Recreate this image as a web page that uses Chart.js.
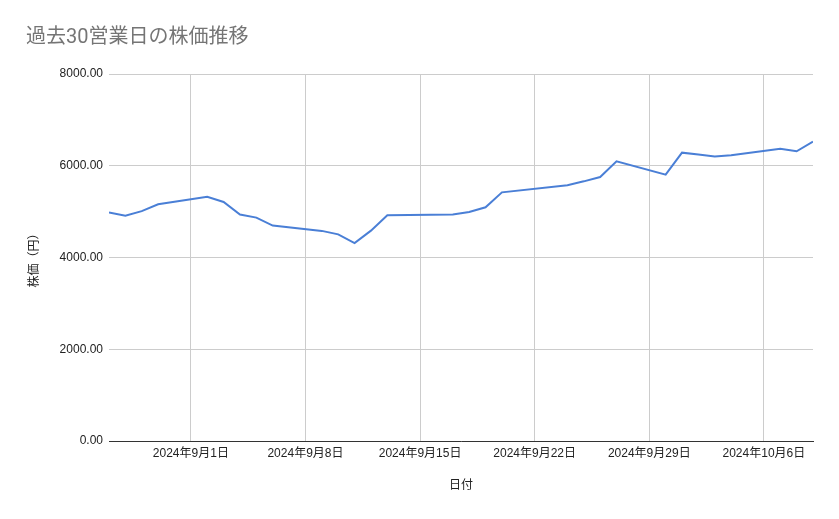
<!DOCTYPE html>
<html lang="ja">
<head>
<meta charset="utf-8">
<title>過去30営業日の株価推移</title>
<script src="https://cdn.jsdelivr.net/npm/chart.js@4.4.1/dist/chart.umd.min.js"></script>
<style>
  html, body { margin: 0; padding: 0; background: #fff; }
  #wrap { width: 839px; height: 519px; position: relative; }
</style>
</head>
<body>
<div id="wrap"><canvas id="stockChart"></canvas></div>
<script>
// 営業日と終値
const dates = [
  "2024-08-27", "2024-08-28", "2024-08-29", "2024-08-30",
  "2024-09-02", "2024-09-03", "2024-09-04", "2024-09-05", "2024-09-06",
  "2024-09-09", "2024-09-10", "2024-09-11", "2024-09-12", "2024-09-13",
  "2024-09-17", "2024-09-18", "2024-09-19", "2024-09-20",
  "2024-09-24", "2024-09-25", "2024-09-26", "2024-09-27",
  "2024-09-30", "2024-10-01", "2024-10-02", "2024-10-03", "2024-10-04",
  "2024-10-07", "2024-10-08", "2024-10-09"
];
const prices = [
  4980, 4910, 5010, 5160,
  5325, 5210, 4935, 4870, 4695,
  4580, 4505, 4315, 4585, 4920,
  4935, 4990, 5095, 5420,
  5575, 5660, 5755, 6095,
  5805, 6285, 6245, 6200, 6230,
  6370, 6315, 6525
];
const tickDates = ["2024-09-01", "2024-09-08", "2024-09-15", "2024-09-22", "2024-09-29", "2024-10-06"];
const yTicks = [0, 2000, 4000, 6000, 8000];
const firstDate = "2024-08-27";
const lastDate = "2024-10-09";

const FONT = "Arial, 'Liberation Sans', 'Noto Sans CJK JP', sans-serif";

const toDay = s => {
  const [y, m, d] = s.split("-").map(Number);
  return Date.UTC(y, m - 1, d) / 86400000;
};
const dayLabel = n => {
  const dt = new Date(n * 86400000);
  return `${dt.getUTCFullYear()}年${dt.getUTCMonth() + 1}月${dt.getUTCDate()}日`;
};

const ctx = document.getElementById("stockChart").getContext("2d");

new Chart(ctx, {
  type: "line",
  data: {
    datasets: [{
      label: "株価（円）",
      data: dates.map((d, i) => ({ x: toDay(d), y: prices[i] })),
      borderColor: "#4a7fd6",
      borderWidth: 2,
      pointRadius: 0,
      tension: 0,
      fill: false
    }]
  },
  options: {
    responsive: true,
    maintainAspectRatio: false,
    animation: false,
    layout: { padding: { left: 26, right: 26, top: 0, bottom: 0 } },
    plugins: {
      legend: { display: false },
      tooltip: { enabled: false },
      title: {
        display: true,
        text: "過去30営業日の株価推移",
        align: "start",
        color: "#757575",
        font: { family: "Roboto, 'Noto Sans CJK JP', sans-serif", size: 20, weight: "normal" },
        padding: { top: 26, bottom: 24 }
      }
    },
    scales: {
      x: {
        type: "linear",
        min: toDay(firstDate),
        max: toDay(lastDate),
        afterBuildTicks: axis => { axis.ticks = tickDates.map(d => ({ value: toDay(d) })); },
        afterFit: s => { s.height = 78; },
        ticks: {
          callback: v => dayLabel(v),
          autoSkip: false,
          maxRotation: 0,
          padding: 5,
          color: "#222",
          font: { family: FONT, size: 12 }
        },
        grid: { color: "#cccccc", drawTicks: false },
        border: { color: "#333333", width: 1 },
        title: {
          display: true,
          text: "日付",
          color: "#222",
          font: { family: FONT, size: 12 },
          padding: { top: 0, bottom: 25.8 }
        }
      },
      y: {
        min: 0,
        max: 8000,
        afterBuildTicks: axis => { axis.ticks = yTicks.map(v => ({ value: v })); },
        afterFit: s => { s.width = 83; },
        ticks: {
          callback: v => Number(v).toFixed(2),
          padding: 6,
          color: "#222",
          font: { family: FONT, size: 12 }
        },
        grid: { color: "#cccccc", drawTicks: false },
        border: { display: false },
        title: {
          display: true,
          text: "株価（円）",
          color: "#222",
          font: { family: "'Noto Sans CJK JP', sans-serif", size: 12 },
          padding: { top: 0, bottom: 0 }
        }
      }
    }
  }
});
</script>
</body>
</html>
